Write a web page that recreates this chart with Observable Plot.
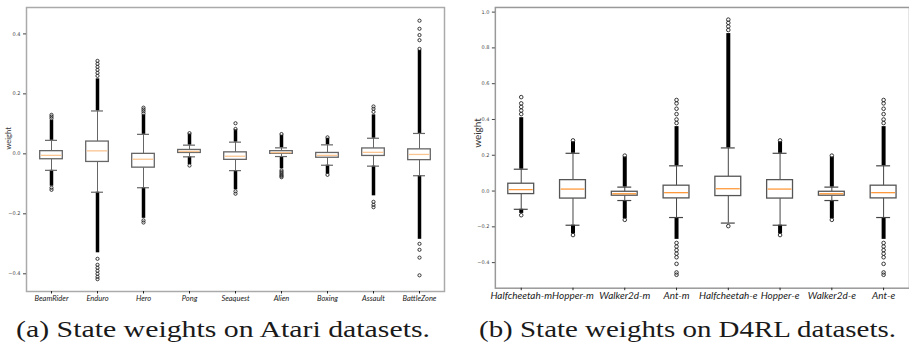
<!DOCTYPE html>
<html>
<head>
<meta charset="utf-8">
<script src="https://cdn.jsdelivr.net/npm/d3@7"></script>
<script src="https://cdn.jsdelivr.net/npm/@observablehq/plot@0.6"></script>
<style>
  html, body { margin: 0; padding: 0; background: #fff; }
  body { width: 909px; height: 349px; position: relative; overflow: hidden; font-family: "DejaVu Sans", sans-serif; }
  #a { position: absolute; left: 0; top: 0; }
  #b { position: absolute; left: 460px; top: 0; }
  #caps { position: absolute; left: 0; top: 300px; }
  #caps text { font-family: "Liberation Serif", "Times New Roman", serif; font-size: 24px; fill: #1a1a1a; }
</style>
</head>
<body>
<div id="a"></div>
<div id="b"></div>
<svg id="caps" width="909" height="49">
  <text x="16" y="37" textLength="414" lengthAdjust="spacingAndGlyphs">(a) State weights on Atari datasets.</text>
  <text x="479" y="37" textLength="417" lengthAdjust="spacingAndGlyphs">(b) State weights on D4RL datasets.</text>
</svg>
<script>
// ---------- Atari (a) ----------
const atariCats   = ["BeamRider","Enduro","Hero","Pong","Seaquest","Alien","Boxing","Assault","BattleZone"];
const atariQ1     = [-0.018, -0.027, -0.046, 0.003, -0.020, 0.000, -0.013, -0.007, -0.021];
const atariMed    = [-0.005,  0.010, -0.018, 0.008, -0.008, 0.004, -0.005,  0.005, -0.002];
const atariQ3     = [ 0.009,  0.041,  0.000, 0.013,  0.005, 0.009,  0.003,  0.018,  0.015];
const atariLo     = [-0.055, -0.128, -0.113, -0.010, -0.056, -0.009, -0.038, -0.041, -0.073];
const atariHi     = [ 0.045,  0.143,  0.065, 0.029,  0.039, 0.020,  0.030,  0.052,  0.068];
const atariDenseUp   = [0.112, 0.250, 0.130, 0.066, 0.080, 0.062, 0.052, 0.130, 0.345];
const atariDenseDown = [-0.108, -0.330, -0.215, -0.036, -0.120, -0.050, -0.068, -0.140, -0.285];
const atariOutliers = [
  [0.118, 0.124, 0.130, -0.113, -0.120],
  [0.26, 0.27, 0.28, 0.29, 0.30, 0.31, -0.35, -0.37, -0.38, -0.39, -0.40, -0.41, -0.418],
  [0.135, 0.142, 0.148, 0.154, -0.222, -0.229],
  [0.069, -0.039],
  [0.083, 0.102, -0.125, -0.133],
  [0.066, -0.055, -0.060, -0.065, -0.070, -0.074, -0.078],
  [0.055, -0.070],
  [0.140, 0.150, 0.158, -0.160, -0.170, -0.178],
  [0.350, 0.379, 0.396, 0.417, 0.444, -0.30, -0.32, -0.346, -0.405]
];
const atariTicks = [-0.4, -0.2, 0.0, 0.2, 0.4];

// ---------- D4RL (b) ----------
const d4rlCats   = ["Halfcheetah-m","Hopper-m","Walker2d-m","Ant-m","Halfcheetah-e","Hopper-e","Walker2d-e","Ant-e"];
const d4rlQ1     = [-0.017, -0.042, -0.026, -0.041, -0.028, -0.042, -0.026, -0.041];
const d4rlMed    = [ 0.008,  0.011, -0.015, -0.009,  0.013,  0.011, -0.015, -0.009];
const d4rlQ3     = [ 0.041,  0.061, -0.004,  0.030,  0.080,  0.061, -0.004,  0.030];
const d4rlLo     = [-0.102, -0.191, -0.053, -0.148, -0.179, -0.191, -0.053, -0.148];
const d4rlHi     = [ 0.122,  0.211,  0.022,  0.141,  0.241,  0.211,  0.022,  0.141];
const d4rlDenseUp   = [0.410, 0.275, 0.190, 0.360, 0.880, 0.275, 0.190, 0.360];
const d4rlDenseDown = [-0.125, -0.240, -0.155, -0.270, -0.179, -0.240, -0.155, -0.270];
const d4rlOutliers = [
  [0.43, 0.45, 0.47, 0.49, 0.525, -0.135],
  [0.283, -0.246],
  [0.198, -0.161],
  [0.38, 0.40, 0.43, 0.46, 0.49, 0.509, -0.29, -0.31, -0.33, -0.35, -0.37, -0.407, -0.455, -0.468],
  [0.90, 0.92, 0.94, 0.958, -0.196],
  [0.283, -0.246],
  [0.198, -0.161],
  [0.38, 0.40, 0.43, 0.46, 0.49, 0.509, -0.29, -0.31, -0.33, -0.35, -0.37, -0.407, -0.455, -0.468]
];
const d4rlTicks = [-0.4, -0.2, 0.0, 0.2, 0.4, 0.6, 0.8, 1.0];

function boxChart(o) {
  const rows = o.cats.map((c, i) => ({
    cat: c, q1: o.q1[i], med: o.med[i], q3: o.q3[i], lo: o.lo[i], hi: o.hi[i],
    du: o.denseUp[i], dd: o.denseDown[i]
  }));
  const outl = o.cats.flatMap((c, i) => o.outliers[i].map(v => ({cat: c, v})));
  const fmt = d => (d < 0 ? "\u2212" : "") + Math.abs(d).toFixed(1);
  return Plot.plot({
    width: o.width, height: o.height,
    marginLeft: o.ml, marginRight: o.mr, marginTop: o.mt, marginBottom: o.mb,
    style: {fontFamily: "DejaVu Sans, sans-serif", background: "transparent", overflow: "visible"},
    x: {type: "band", domain: o.cats, padding: 0, label: null},
    y: {domain: o.ydomain, label: null},
    marks: [
      Plot.frame({stroke: o.frameColor, strokeWidth: 1.5}),
      Plot.axisY({ticks: o.ticks, tickFormat: fmt, tickSize: 3, tickPadding: 3, fontSize: o.tickFont, color: "#444", label: null}),
      Plot.axisX({tickSize: 2.5, tickPadding: 1.5, fontSize: o.xFont, fontFamily: "Lato", fontStyle: "italic", color: "#222", label: null}),
      Plot.text(["weight"], {frameAnchor: "left", rotate: -90, dx: o.labelDx, fontSize: o.labelFont, fontFamily: "Lato", fill: "#333"}),
      // whiskers
      Plot.ruleX(rows, {x: "cat", y1: "q3", y2: "hi", stroke: o.lineColor, strokeWidth: 1}),
      Plot.ruleX(rows, {x: "cat", y1: "q1", y2: "lo", stroke: o.lineColor, strokeWidth: 1}),
      // dense outlier columns
      Plot.ruleX(rows, {x: "cat", y1: "hi", y2: "du", stroke: "#000", strokeWidth: o.denseW}),
      Plot.ruleX(rows, {x: "cat", y1: "lo", y2: "dd", stroke: "#000", strokeWidth: o.denseW}),
      // caps
      Plot.tickY(rows, {x: "cat", y: "hi", stroke: o.lineColor, strokeWidth: 1.2, insetLeft: o.capInset, insetRight: o.capInset}),
      Plot.tickY(rows, {x: "cat", y: "lo", stroke: o.lineColor, strokeWidth: 1.2, insetLeft: o.capInset, insetRight: o.capInset}),
      // box
      Plot.rectY(rows, {x: "cat", y1: "q1", y2: "q3", fill: "#fff", stroke: o.boxColor, strokeWidth: 1.3, insetLeft: o.boxInset, insetRight: o.boxInset}),
      // median
      Plot.tickY(rows, {x: "cat", y: "med", stroke: o.medColor, strokeWidth: 1.3, insetLeft: o.boxInset + 1, insetRight: o.boxInset + 1}),
      // sparse outliers
      Plot.dot(outl, {x: "cat", y: "v", r: o.dotR, stroke: "#222", strokeWidth: 0.9, fill: "none"})
    ]
  });
}

document.getElementById("a").append(boxChart({
  cats: atariCats, q1: atariQ1, med: atariMed, q3: atariQ3, lo: atariLo, hi: atariHi,
  denseUp: atariDenseUp, denseDown: atariDenseDown, outliers: atariOutliers, ticks: atariTicks,
  width: 455, height: 305, ml: 26, mr: 11, mt: 7, mb: 14,
  ydomain: [-0.459, 0.488],
  frameColor: "#aaa", lineColor: "#666", boxColor: "#666", medColor: "#fbc592",
  tickFont: 5, xFont: 7.5, labelFont: 7.5, labelDx: -18,
  boxInset: 11.7, capInset: 17, denseW: 3.5, dotR: 1.6
}));

document.getElementById("b").append(boxChart({
  cats: d4rlCats, q1: d4rlQ1, med: d4rlMed, q3: d4rlQ3, lo: d4rlLo, hi: d4rlHi,
  denseUp: d4rlDenseUp, denseDown: d4rlDenseDown, outliers: d4rlOutliers, ticks: d4rlTicks,
  width: 451, height: 305, ml: 35, mr: 0, mt: 7, mb: 16,
  ydomain: [-0.543, 1.026],
  frameColor: "#999", lineColor: "#444", boxColor: "#555", medColor: "#ff9a3c",
  tickFont: 5, xFont: 10, labelFont: 10, labelDx: -18,
  boxInset: 13, capInset: 19, denseW: 4, dotR: 1.8
}));
</script>
</body>
</html>
